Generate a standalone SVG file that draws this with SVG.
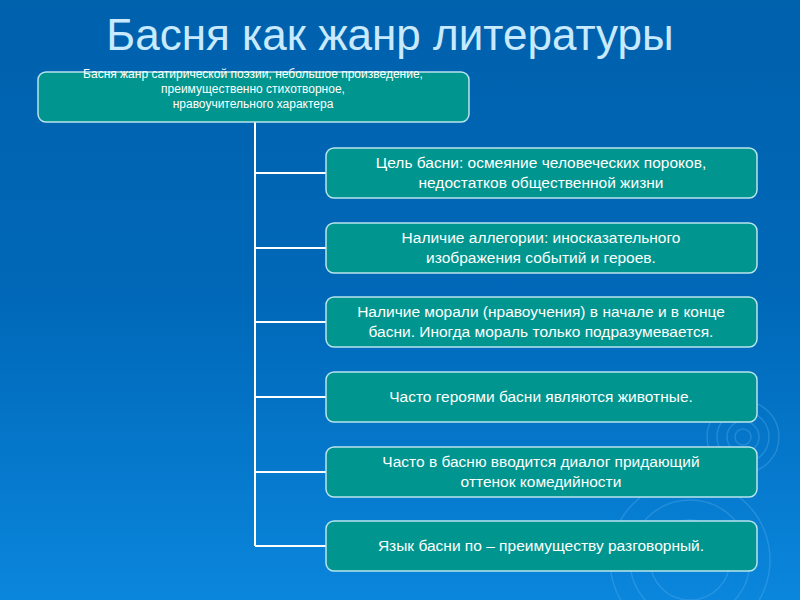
<svg xmlns="http://www.w3.org/2000/svg" width="800" height="600" viewBox="0 0 800 600">
<defs>
<linearGradient id="bg" x1="0" y1="0" x2="0" y2="1">
<stop offset="0" stop-color="#0061ad"/>
<stop offset="0.5" stop-color="#0068b8"/>
<stop offset="1" stop-color="#0a86dc"/>
</linearGradient>
<style>
.box{fill:#00968f;stroke:#b8e4ec;stroke-width:1.5}
.t{font-family:"Liberation Sans",Arial,sans-serif;fill:#ffffff;text-anchor:middle}
.s{font-size:15.5px}
.top{font-size:12px}
.ln{stroke:#ffffff;stroke-width:2;fill:none}
.rip{fill:none;stroke:#5ab0ee;stroke-opacity:0.35;stroke-width:1.5}
</style>
</defs>
<rect width="800" height="600" fill="url(#bg)"/>
<g id="ripples">
<circle class="rip" cx="743" cy="437" r="8"/>
<circle class="rip" cx="743" cy="437" r="16"/>
<circle class="rip" cx="743" cy="437" r="26"/>
<circle class="rip" cx="743" cy="437" r="36"/>
<circle class="rip" cx="690" cy="560" r="40"/>
<circle class="rip" cx="690" cy="560" r="60"/>
<circle class="rip" cx="690" cy="560" r="80"/>
</g>
<text class="t" x="390" y="50" font-size="44" style="fill:#c8eaff">Басня как жанр литературы</text>
<g id="connectors">
<path class="ln" d="M255 122 V546"/>
<path class="ln" d="M255 173 H326 M255 248 H326 M255 322 H326 M255 397 H326 M255 472 H326 M255 546 H326"/>
</g>
<g id="root">
<rect class="box" x="38" y="72" width="431" height="50" rx="8"/>
<text class="t top" x="253" y="78">Басня жанр сатирической поэзии, небольшое произведение,</text>
<text class="t top" x="253" y="93">преимущественно стихотворное,</text>
<text class="t top" x="253" y="108">нравоучительного характера</text>
</g>
<g id="n1">
<rect class="box" x="326" y="148" width="431" height="50" rx="8"/>
<text class="t s" x="541" y="168">Цель басни: осмеяние человеческих пороков,</text>
<text class="t s" x="541" y="188">недостатков общественной жизни</text>
</g>
<g id="n2">
<rect class="box" x="326" y="223" width="431" height="50" rx="8"/>
<text class="t s" x="541" y="243">Наличие аллегории: иносказательного</text>
<text class="t s" x="541" y="263">изображения событий и героев.</text>
</g>
<g id="n3">
<rect class="box" x="326" y="297" width="431" height="50" rx="8"/>
<text class="t s" x="541" y="317">Наличие морали (нравоучения) в начале и в конце</text>
<text class="t s" x="541" y="337">басни. Иногда мораль только подразумевается.</text>
</g>
<g id="n4">
<rect class="box" x="326" y="372" width="431" height="50" rx="8"/>
<text class="t s" x="541" y="402">Часто героями басни являются животные.</text>
</g>
<g id="n5">
<rect class="box" x="326" y="447" width="431" height="50" rx="8"/>
<text class="t s" x="541" y="467">Часто в басню вводится диалог придающий</text>
<text class="t s" x="541" y="487">оттенок комедийности</text>
</g>
<g id="n6">
<rect class="box" x="326" y="521" width="431" height="50" rx="8"/>
<text class="t s" x="541" y="551">Язык басни по – преимуществу разговорный.</text>
</g>
</svg>
